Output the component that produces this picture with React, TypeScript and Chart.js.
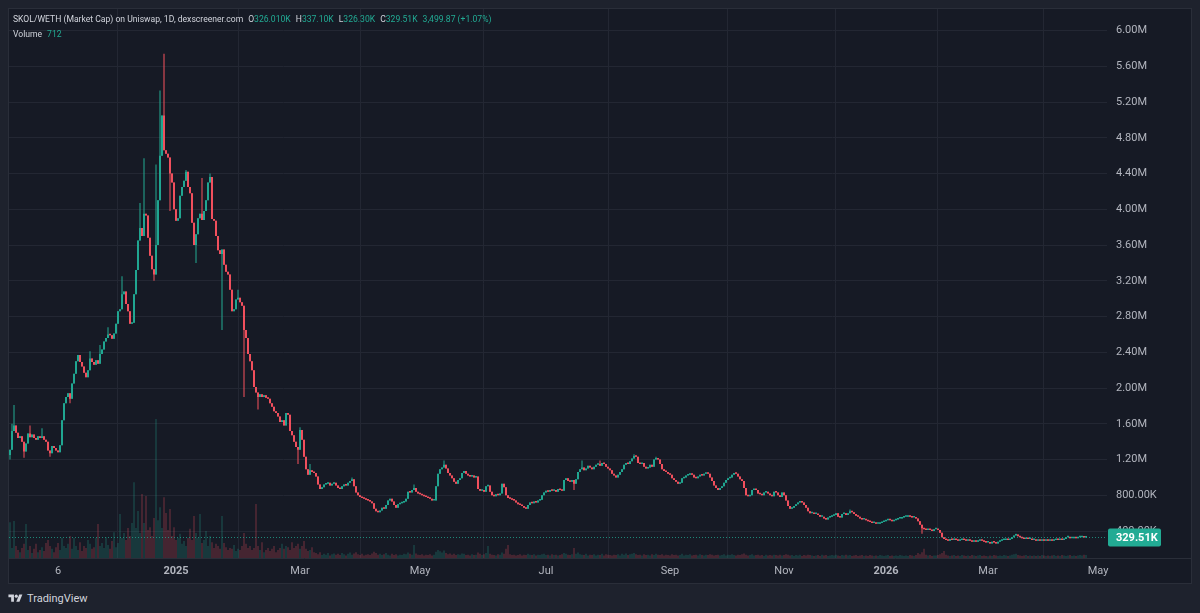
import React, { useEffect, useRef } from 'react';
import { Chart, registerables } from 'chart.js';

Chart.register(...registerables);

// ---------- data (market cap in K USD, one candle per day) ----------
const firstOpen = 1250;

const closes: number[] = [
  1310, 1520, 1580, 1500, 1440, 1460, 1400, 1290, 1380, 1490,
  1450, 1480, 1440, 1420, 1460, 1440, 1460, 1420, 1400, 1300,
  1270, 1350, 1330, 1300, 1280, 1360, 1640, 1830, 1900, 1940,
  1880, 2050, 2160, 2300, 2370, 2290, 2240, 2170, 2120, 2200,
  2330, 2290, 2260, 2310, 2270, 2380, 2430, 2520, 2560, 2600,
  2590, 2550, 2610, 2720, 2860, 2880, 3050, 3080, 2940, 2860,
  2720, 2730, 3050, 3320, 3650, 3790, 3700, 3950, 3930, 3680,
  3480, 3330, 3270, 3600, 4100, 4600, 5050, 4660, 4620, 4580,
  4400, 4300, 4000, 3870, 3900, 4150, 4250, 4320, 4420, 4250,
  4180, 3850, 3600, 3720, 3900, 3950, 3880, 3980, 4100, 4300,
  4360, 3890, 3870, 3700, 3540, 3500, 3550, 3380, 3300, 3270,
  3100, 2860, 2880, 2990, 3010, 2960, 2920, 2650, 2560, 2380,
  2300, 2200, 2010, 1950, 1900, 1930, 1900, 1920, 1890, 1880,
  1830, 1790, 1740, 1720, 1680, 1620, 1640, 1580, 1720, 1700,
  1520, 1470, 1400, 1340, 1310, 1530, 1420, 1230, 1090, 1030,
  1080, 1060, 1050, 1010, 920, 870, 890, 920, 930, 940,
  910, 930, 940, 910, 880, 870, 900, 920, 910, 940,
  960, 980, 900, 830, 800, 780, 770, 760, 750, 740,
  730, 710, 650, 620, 610, 630, 660, 650, 690, 740,
  760, 730, 690, 660, 700, 710, 720, 730, 760, 840,
  830, 860, 880, 840, 820, 810, 800, 790, 780, 770,
  760, 740, 740, 900, 1040, 1090, 1110, 1140, 1100, 1050,
  1020, 990, 950, 930, 970, 990, 1050, 1070, 1040, 1020,
  1010, 1020, 1000, 1010, 870, 850, 860, 840, 900, 910,
  840, 800, 790, 810, 800, 820, 930, 890, 800, 770,
  760, 750, 740, 720, 700, 690, 680, 660, 650, 690,
  720, 710, 730, 720, 740, 750, 800, 830, 850, 840,
  860, 850, 860, 840, 870, 860, 850, 970, 990, 960,
  950, 970, 930, 980, 1060, 1090, 1110, 1080, 1100, 1130,
  1110, 1090, 1120, 1140, 1150, 1130, 1160, 1150, 1120, 1100,
  1080, 1040, 1020, 1000, 1030, 1060, 1090, 1140, 1160, 1150,
  1180, 1210, 1240, 1230, 1160, 1150, 1160, 1120, 1100, 1110,
  1140, 1120, 1200, 1210, 1200, 1150, 1090, 1070, 1060, 1040,
  1030, 990, 970, 950, 930, 940, 990, 1000, 1020, 1030,
  1040, 1030, 1000, 990, 1010, 1030, 1020, 1040, 1050, 1040,
  1000, 960, 910, 880, 860, 880, 900, 940, 970, 990,
  1000, 1030, 1050, 1040, 1010, 980, 960, 880, 800, 790,
  800, 860, 870, 860, 820, 810, 800, 830, 840, 820,
  800, 790, 840, 830, 800, 780, 830, 800, 740, 680,
  650, 660, 680, 700, 720, 730, 720, 690, 660, 620,
  600, 600, 590, 590, 580, 560, 560, 540, 530, 550,
  560, 570, 580, 600, 560, 550, 590, 600, 580, 600,
  620, 610, 590, 570, 560, 540, 530, 530, 520, 510,
  500, 490, 490, 480, 480, 490, 500, 510, 520, 530,
  520, 510, 520, 530, 540, 540, 550, 560, 560, 570,
  560, 550, 550, 540, 510, 470, 430, 420, 410, 420,
  410, 400, 420, 420, 410, 380, 330, 310, 300, 290,
  310, 300, 310, 300, 290, 300, 310, 300, 290, 300,
  290, 280, 290, 280, 290, 300, 290, 280, 270, 270,
  260, 280, 270, 260, 280, 290, 300, 300, 310, 300,
  310, 330, 350, 360, 340, 330, 320, 310, 320, 310,
  310, 300, 300, 290, 300, 290, 300, 290, 300, 290,
  300, 290, 300, 310, 300, 310, 300, 310, 330, 330,
  320, 320, 330, 320, 330, 330, 330, 326.01, 329.51,
];

// notable wick extremes: [candle index, value in K]
const highWicks: [number, number][] = [
  [1, 1600], [2, 1810], [10, 1580], [16, 1550], [40, 2410], [45, 2480], [49, 2680],
  [56, 3250], [65, 4070], [67, 4570], [73, 4500], [75, 5330], [77, 5740], [88, 4440],
  [96, 4350], [100, 4400], [114, 3100], [145, 1560], [150, 1150], [171, 1000],
  [202, 920], [217, 1190], [286, 1190], [295, 1190], [312, 1260], [323, 1230],
  [420, 640], [503, 370], [538, 337.1],
];
const lowWicks: [number, number][] = [
  [0, 1200], [7, 1220], [20, 1230], [30, 1830], [72, 3200], [80, 3980], [93, 3400],
  [106, 2650], [117, 1900], [124, 1760], [144, 1150], [282, 860], [456, 370], [538, 326.3],
];

// daily volume, USD
const volumes: number[] = [
  8600, 2400, 8900, 2900, 1900, 1400, 2400, 3400, 8200, 1900,
  2900, 1200, 2200, 3400, 1400, 1900, 2600, 1700, 3600, 4300,
  2900, 2200, 1400, 2600, 3600, 1900, 4800, 2900, 2400, 3400,
  5300, 2200, 4800, 2900, 1900, 3800, 1700, 2900, 2400, 4300,
  3400, 2200, 2600, 4800, 8200, 2900, 3600, 2400, 5000, 3100,
  2200, 4100, 6200, 2600, 3600, 10600, 4800, 6000, 4300, 7200,
  5300, 8400, 18200, 7200, 11300, 6000, 15400, 8400, 14900, 6700,
  7400, 5300, 9600, 33400, 9100, 12200, 7200, 14600, 10800, 6700,
  11800, 5300, 7400, 4300, 4800, 5800, 3400, 4100, 2900, 4800,
  7000, 4300, 10100, 6000, 4800, 10600, 3600, 4300, 6500, 2900,
  5300, 3800, 2400, 3400, 2900, 2200, 10100, 3600, 2600, 1900,
  2400, 2200, 3100, 1700, 2200, 1900, 2900, 6000, 3400, 2400,
  2900, 1900, 2400, 13000, 2900, 1900, 3800, 1400, 1900, 2400,
  1700, 2200, 2900, 1400, 1900, 2400, 3400, 2200, 2900, 2600,
  1900, 3800, 2400, 2900, 3400, 2200, 2900, 4100, 2200, 1700,
  1900, 2600, 1400,
  1200, 900, 1400, 700, 1000, 800, 1200, 600, 900, 1100,
  800, 1000, 700, 1200, 900, 600, 1000, 1300, 800, 1100,
  1400, 900, 700, 1000, 600, 800, 900, 700, 1100, 1500,
  1200, 800, 1000, 700, 900, 1200, 800, 600, 1000, 700,
  900, 600, 800, 700, 1000, 900, 1300, 1000, 800, 3100,
  1100, 800, 700, 900, 600, 800, 700, 900, 600, 800,
  1500, 1900, 1600, 1300, 1800, 1200, 900, 1100, 800, 1000,
  700, 900, 800, 1100, 1000, 700, 800, 600, 900, 700,
  800, 1300, 1000, 700, 900, 1200, 2900, 1000, 800, 700,
  600, 900, 800, 1300, 1000, 2200, 3100, 900, 700, 800,
  600, 700, 900, 600, 800, 700, 1000, 800, 700, 900,
  600, 800, 700, 900, 1000, 700, 800, 600, 900, 700,
  800, 600, 700, 900, 1200, 1000, 800, 700, 900, 2400,
  1000, 1300, 900, 800, 700, 1000, 600, 800, 700, 900,
  600, 800, 700, 1000, 600, 900, 800, 700, 600, 800,
  700, 900, 600, 1000, 800, 1100, 700, 900, 1000, 1200,
  900, 700, 800, 600, 900, 700, 800, 600, 900, 700,
  1000, 800, 700, 900, 600, 800, 700, 600, 900, 700,
  800, 600, 700, 1000, 600, 800, 700, 900, 600, 700,
  800, 600, 900, 700, 600, 800, 700, 900, 800, 600,
  700, 800, 600, 700, 900, 600, 800, 700, 900, 700,
  600, 800, 700, 900, 1100, 800, 600, 700, 900, 600,
  700, 800, 600, 700, 500, 800, 600, 700, 600, 800,
  700, 600, 800, 600, 700, 900, 800, 600, 700, 500,
  700, 600, 800, 500, 700, 600, 800, 700, 600, 500,
  600, 700, 500, 800, 600, 700, 500, 600, 700, 600,
  800, 600, 500, 700, 600, 800, 600, 700, 500, 600,
  700, 500, 600, 700, 500, 600, 500, 700, 600, 500,
  600, 500, 700, 600, 500, 600, 700, 500, 600, 500,
  600, 500, 700, 600, 500, 600, 500, 700, 600, 500,
  700, 1200, 900, 1400, 2200, 800, 600, 700, 500, 600,
  600, 700, 900, 1200, 1700, 800, 600, 500, 600, 700,
  500, 600, 500, 700, 600, 500, 600, 500, 700, 600,
  500, 600, 700, 500, 600, 500, 400, 600, 500, 700,
  600, 500, 600, 500, 700, 600, 500, 600, 800, 900,
  1000, 700, 600, 500, 600, 700, 500, 600, 500, 600,
  500, 600, 500, 700, 600, 500, 600, 500, 600, 700,
  500, 600, 500, 700, 600, 500, 600, 700, 500, 600,
  500, 600, 700, 600, 800, 712,
];

const timeTickIndex = [24, 83, 145, 205, 268, 330, 387, 438, 489, 544];
const timeTickLabels = ['6', '2025', 'Mar', 'May', 'Jul', 'Sep', 'Nov', '2026', 'Mar', 'May'];
const priceTicks = [400, 800, 1200, 1600, 2000, 2400, 2800, 3200, 3600, 4000, 4400, 4800, 5200, 5600, 6000];

const legendTitle = 'SKOL/WETH (Market Cap) on Uniswap, 1D, dexscreener.com';
const legendOhlc: [string, string][] = [['O', '326.010K'], ['H', '337.10K'], ['L', '326.30K'], ['C', '329.51K']];
const legendChange = '3,499.87 (+1.07%)';
const legendVolume: [string, string] = ['Volume', '712'];

// ---------- styling ----------
const UP = '#22ab94';
const DOWN = '#f7525f';
const UP_VOL = 'rgba(34,171,148,0.42)';
const DOWN_VOL = 'rgba(247,82,95,0.42)';
const GRID = '#232733';
const TEXT = '#b2b5be';
const FONT = 'Roboto, "Noto Sans", sans-serif';

const fmtPrice = (v: number) => (v >= 1000 ? (v / 1000).toFixed(2) + 'M' : v.toFixed(2) + 'K');

export default function App() {
  const ref = useRef<HTMLCanvasElement | null>(null);

  useEffect(() => {
    if (!ref.current) return;
    const opens = closes.map((c, i) => (i === 0 ? firstOpen : closes[i - 1]));
    const hiMap = new Map(highWicks);
    const loMap = new Map(lowWicks);
    const highs = closes.map((c, i) => Math.max(opens[i], c, hiMap.get(i) ?? -Infinity));
    const lows = closes.map((c, i) => Math.min(opens[i], c, loMap.get(i) ?? Infinity));
    const up = closes.map((c, i) => c >= opens[i]);
    const lastClose = closes[closes.length - 1];
    const volMax = Math.max(...volumes) * 3.95;

    const lastPricePlugin = {
      id: 'lastPrice',
      afterDraw(chart: any) {
        const { ctx, chartArea, scales } = chart;
        const y = Math.round(scales.y.getPixelForValue(lastClose)) + 0.5;
        ctx.save();
        ctx.lineWidth = 1;
        ctx.strokeStyle = 'rgba(34,171,148,0.75)';
        ctx.setLineDash([1, 2]);
        ctx.beginPath();
        ctx.moveTo(chartArea.left, y);
        ctx.lineTo(chartArea.right, y);
        ctx.stroke();
        ctx.setLineDash([]);
        ctx.strokeStyle = '#2a2e39';
        ctx.beginPath();
        ctx.moveTo(0, chartArea.bottom + 0.5);
        ctx.lineTo(chart.width, chartArea.bottom + 0.5);
        ctx.stroke();
        const x0 = chartArea.right + 1;
        const w = 53;
        const h = 18;
        ctx.fillStyle = UP;
        ctx.beginPath();
        (ctx as any).roundRect(x0, y - h / 2, w, h, 2);
        ctx.fill();
        ctx.fillStyle = '#ffffff';
        ctx.font = `bold 11px ${FONT}`;
        ctx.textBaseline = 'middle';
        ctx.textAlign = 'left';
        ctx.fillText(fmtPrice(lastClose), x0 + 8, y + 0.5);
        ctx.restore();
      },
    };

    const chart = new Chart(ref.current, {
      type: 'bar',
      data: {
        datasets: [
          {
            label: 'Volume',
            data: volumes.map((v, i) => ({ x: i, y: v })) as any,
            yAxisID: 'vol',
            backgroundColor: up.map((u) => (u ? UP_VOL : DOWN_VOL)),
            grouped: false,
            barPercentage: 0.5,
            categoryPercentage: 1,
            order: 3,
          },
          {
            label: 'Wick',
            data: closes.map((c, i) => ({ x: i, y: [lows[i], highs[i]] })) as any,
            yAxisID: 'y',
            backgroundColor: up.map((u) => (u ? UP : DOWN)),
            grouped: false,
            barPercentage: 0.5,
            categoryPercentage: 1,
            order: 2,
          },
          {
            label: 'Body',
            data: closes.map((c, i) => ({ x: i, y: [opens[i], c] })) as any,
            yAxisID: 'y',
            backgroundColor: up.map((u) => (u ? UP : DOWN)),
            grouped: false,
            barPercentage: 0.95,
            categoryPercentage: 1,
            minBarLength: 1.5,
            order: 1,
          },
        ],
      },
      options: {
        animation: false,
        responsive: false,
        events: [],
        layout: { padding: 0 },
        plugins: { legend: { display: false }, tooltip: { enabled: false } },
        scales: {
          x: {
            type: 'linear',
            min: -0.5,
            max: 548.5,
            offset: false,
            afterBuildTicks: (scale: any) => {
              scale.ticks = timeTickIndex.map((v) => ({ value: v }));
            },
            afterFit: (scale: any) => {
              scale.height = 25;
              scale.paddingLeft = 0;
              scale.paddingRight = 0;
            },
            grid: { color: GRID, drawTicks: false },
            border: { display: false },
            ticks: {
              autoSkip: false,
              maxRotation: 0,
              padding: 7,
              color: TEXT,
              font: (ctx: any) => ({
                family: FONT,
                size: 11,
                weight: /^\d{4}$/.test(timeTickLabels[ctx.index] || '') ? 'bold' : 'normal',
              }),
              callback: (_v: any, index: number) => timeTickLabels[index],
            },
          },
          y: {
            type: 'linear',
            position: 'right',
            min: 97.9,
            max: 6240.6,
            afterBuildTicks: (scale: any) => {
              scale.ticks = priceTicks.map((v) => ({ value: v }));
            },
            afterFit: (scale: any) => {
              scale.width = 84;
              scale.paddingTop = 0;
              scale.paddingBottom = 0;
            },
            grid: { color: GRID, drawTicks: false },
            border: { display: false },
            ticks: {
              padding: 9,
              color: TEXT,
              font: { family: FONT, size: 11 },
              callback: (v: any) => fmtPrice(Number(v)),
            },
          },
          vol: {
            type: 'linear',
            display: false,
            min: 0,
            max: volMax,
          },
        },
      } as any,
      plugins: [lastPricePlugin],
    });
    return () => chart.destroy();
  }, []);

  return (
    <div
      style={{
        position: 'fixed',
        left: 0,
        top: 0,
        width: 1200,
        height: 613,
        background: '#1e222d',
        overflow: 'hidden',
        fontFamily: FONT,
      }}
    >
      <div
        style={{
          position: 'absolute',
          left: 8,
          top: 8,
          width: 1182,
          height: 574,
          border: '1px solid #2a2e39',
          background: '#161a25',
        }}
      >
        <canvas ref={ref} width={1182} height={574} style={{ display: 'block' }} />
        <div
          style={{
            position: 'absolute',
            left: 4,
            top: 3,
            fontSize: 8.6,
            lineHeight: '15px',
            color: '#d1d4dc',
            whiteSpace: 'nowrap',
          }}
        >
          <div>
            <span>{legendTitle}</span>
            {legendOhlc.map(([k, v]) => (
              <span key={k} style={{ marginLeft: 5 }}>
                {k}
                <span style={{ color: UP }}>{v}</span>
              </span>
            ))}
            <span style={{ marginLeft: 5, color: UP }}>{legendChange}</span>
          </div>
          <div>
            <span>{legendVolume[0]}</span>
            <span style={{ marginLeft: 5, color: UP }}>{legendVolume[1]}</span>
          </div>
        </div>
      </div>
      <div
        style={{
          position: 'absolute',
          left: 8,
          top: 591,
          height: 14,
          display: 'flex',
          alignItems: 'center',
          color: '#d1d4dc',
          fontSize: 11,
        }}
      >
        <svg width="15" height="11" viewBox="0 0 36 28" style={{ marginRight: 4 }}>
          <path d="M14 22H7V11H0V4h14v18z" fill="#d1d4dc" />
          <circle cx="20" cy="8" r="4" fill="#d1d4dc" />
          <path d="M28 22h-8l7.5-18h8L28 22z" fill="#d1d4dc" />
        </svg>
        <span>TradingView</span>
      </div>
    </div>
  );
}
